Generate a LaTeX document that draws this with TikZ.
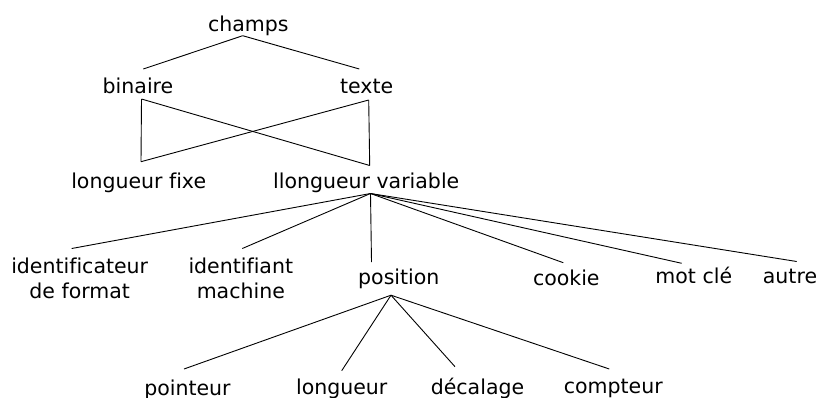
\documentclass[tikz,border=0pt]{standalone}
\usepackage{fontspec}
\setmainfont{DejaVu Sans}[Ligatures=NoCommon]
\begin{document}
\begin{tikzpicture}[x=1pt,y=-1pt,
  lbl/.style={inner sep=0pt,anchor=base,font=\fontsize{20.5}{25}\selectfont},
  edge/.style={line width=0.9pt}]
\useasboundingbox (0,0) rectangle (819,397);
% text nodes
\node[lbl] (champs) at (248.3,31) {champs};
\node[lbl] (binaire) at (138,93.3) {binaire};
\node[lbl] (texte) at (366.7,93.3) {texte};
\node[lbl] (lfixe) at (138.7,188.3) {longueur fixe};
\node[lbl] (lvar) at (366.2,188.3) {llongueur variable};
\node[lbl] (idfmt) at (79.7,273.3) {\begin{tabular}[t]{@{}c@{}}identificateur\\de format\end{tabular}};
\node[lbl] (idmach) at (240.8,273.3) {\begin{tabular}[t]{@{}c@{}}identifiant\\machine\end{tabular}};
\node[lbl] (position) at (398.8,284.3) {position};
\node[lbl] (cookie) at (566.3,285) {cookie};
\node[lbl] (motcle) at (693.8,283.3) {mot clé};
\node[lbl] (autre) at (790,283.3) {autre};
\node[lbl] (pointeur) at (187.5,395) {pointeur};
\node[lbl] (longueur) at (341.7,394.5) {longueur};
\node[lbl] (decalage) at (477.5,394.3) {décalage};
\node[lbl] (compteur) at (613.3,393.8) {compteur};
% connector anchors
\coordinate (champs-s) at (242.7,35.7);
\coordinate (binaire-n) at (143.3,69);
\coordinate (texte-n) at (359.3,69);
\coordinate (binaire-s) at (141.5,99);
\coordinate (texte-s) at (368.7,100);
\coordinate (lfixe-n) at (141,161.7);
\coordinate (lvar-n) at (369.7,165.5);
\coordinate (lvar-s) at (370.5,193.5);
\coordinate (idfmt-n) at (71.7,248.5);
\coordinate (idmach-n) at (242.3,248.5);
\coordinate (position-n) at (371.5,262);
\coordinate (cookie-n) at (563.3,262.7);
\coordinate (motcle-n) at (681.7,263.3);
\coordinate (autre-n) at (796.7,261.5);
\coordinate (position-s) at (391,295.2);
\coordinate (pointeur-n) at (184,369);
\coordinate (longueur-n) at (341.7,370.7);
\coordinate (decalage-n) at (455,366.7);
\coordinate (compteur-n) at (609.3,369);
% connectors
\draw[edge] (champs-s) -- (binaire-n);
\draw[edge] (champs-s) -- (texte-n);
\draw[edge] (binaire-s) -- (lfixe-n);
\draw[edge] (binaire-s) -- (lvar-n);
\draw[edge] (texte-s) -- (lfixe-n);
\draw[edge] (texte-s) -- (lvar-n);
\foreach \c in {idfmt,idmach,position,cookie,motcle,autre}
  \draw[edge] (lvar-s) -- (\c-n);
\foreach \c in {pointeur,longueur,decalage,compteur}
  \draw[edge] (position-s) -- (\c-n);
\end{tikzpicture}
\end{document}
